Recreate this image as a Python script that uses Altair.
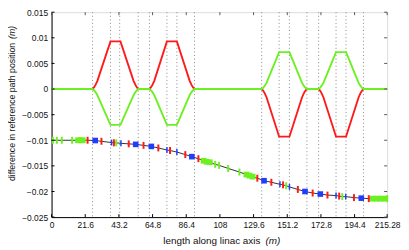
import altair as alt
import pandas as pd

# ---------------- data ----------------
x_ticks = [0, 21.6, 43.2, 64.8, 86.4, 108, 129.6, 151.2, 172.8, 194.4, 215.28]
y_ticks = [-0.025, -0.02, -0.015, -0.01, -0.005, 0, 0.005, 0.01, 0.015]

guide_s = [26.3, 37.8, 43.7, 55.6, 62.8, 74.0, 80.4, 91.7,
           134.8, 146.0, 152.6, 163.8, 171.3, 182.5, 188.9, 200.1]

red_s = [0, 26.3, 27.2, 28.2, 29.4, 37.8, 44.2, 52.6, 53.8, 54.8, 55.6,
         62.8, 63.7, 64.7, 65.9, 74.0, 80.4, 88.6, 89.8, 90.8, 91.7,
         134.8, 135.7, 136.7, 137.9, 146.0, 152.6, 160.7, 161.9, 162.9, 163.8,
         171.3, 172.2, 173.2, 174.4, 182.5, 188.9, 197.0, 198.2, 199.2, 200.1, 215.28]
red_d = [0, 0, 0.0003, 0.0008, 0.0016, 0.0093, 0.0093, 0.0016, 0.0008, 0.0003, 0,
         0, 0.0003, 0.0008, 0.0016, 0.0093, 0.0093, 0.0016, 0.0008, 0.0003, 0,
         0, -0.0003, -0.0008, -0.0016, -0.0093, -0.0093, -0.0016, -0.0008, -0.0003, 0,
         0, -0.0003, -0.0008, -0.0016, -0.0093, -0.0093, -0.0016, -0.0008, -0.0003, 0, 0]

green_s = red_s
green_d = [0, 0, -0.00023, -0.0006, -0.0012, -0.0070, -0.0070, -0.0012, -0.0006, -0.00023, 0,
           0, -0.00023, -0.0006, -0.0012, -0.0070, -0.0070, -0.0012, -0.0006, -0.00023, 0,
           0, 0.00023, 0.0006, 0.0012, 0.0072, 0.0072, 0.0012, 0.0006, 0.00023, 0,
           0, 0.00023, 0.0006, 0.0012, 0.0072, 0.0072, 0.0012, 0.0006, 0.00023, 0, 0]

elem_s = [0, 0.8, 3.4, 6.6, 13.2, 17.0, 18.5, 20.0, 23.1, 28.0, 32.0, 38.5, 40.0, 41.5,
          44.5, 49.5, 54.0, 59.0, 64.0, 68.5, 74.0, 76.0, 80.4, 85.8, 90.0, 94.2,
          97.5, 99.5, 101.5, 105.0, 107.5, 113.3, 120.5, 125.0, 127.0, 129.0, 132.0,
          136.3, 141.0, 146.5, 148.5, 150.5, 152.6, 158.0, 162.6, 167.5, 172.4, 177.0,
          182.5, 184.5, 186.5, 188.7, 194.0, 198.7, 203.5, 206.0, 208.5, 211.0, 213.5, 215.28]
elem_d = [-0.0100, -0.0100, -0.0100, -0.0100, -0.0100, -0.0100, -0.0100, -0.0100, -0.0100,
          -0.01005, -0.0102, -0.01045, -0.0105, -0.0105, -0.0106, -0.0107, -0.0108, -0.0110,
          -0.0112, -0.0115, -0.0119, -0.0120, -0.0123, -0.0128, -0.0132, -0.0136, -0.0140,
          -0.0142, -0.0143, -0.0147, -0.0149, -0.0155, -0.0162, -0.0167, -0.0169, -0.0171,
          -0.0174, -0.0179, -0.0182, -0.0186, -0.0187, -0.0189, -0.0191, -0.0196, -0.0200,
          -0.0203, -0.0205, -0.0207, -0.0208, -0.0209, -0.0210, -0.0210, -0.0212, -0.0213,
          -0.0214, -0.0214, -0.0214, -0.0214, -0.0214, -0.0214]
elem_kind = ["", "G", "G", "G", "G", "GS", "GS", "GS", "R", "B", "R", "b", "R", "G",
             "b", "R", "B", "R", "B", "R", "b", "R", "b", "R", "B", "R",
             "GS", "GS", "GS", "G", "G", "G", "G", "GS", "GS", "GS", "R",
             "B", "R", "b", "R", "G", "b", "R", "B", "R", "B", "R",
             "b", "R", "G", "b", "R", "B", "R", "GS", "GS", "GS", "GS", "G"]

# ---------------- chart ----------------
W, H = 339, 207
RED = "#ff1a1a"
GREEN = "#6cf020"
BLUE = "#1f3cff"
FONT = "Liberation Sans"

xs = alt.Scale(domain=[0, 215.28], nice=False, zero=False)
ys = alt.Scale(domain=[-0.025, 0.015], nice=False, zero=False)

x_axis = alt.Axis(values=x_ticks, format=".5~r", ticks=False, grid=False, title=None,
                  labelFontSize=8.5, labelFont=FONT, labelColor="#111", labelPadding=4,
                  domainColor="#000", labelFlush=False, labelOverlap=False)
y_axis = alt.Axis(values=y_ticks, format="~g", ticks=False, grid=False, title=None,
                  labelFontSize=8.5, labelFont=FONT, labelColor="#111", labelPadding=4,
                  domainColor="#000", labelOverlap=False)


def X(field):
    return alt.X(field, scale=xs, axis=x_axis)


def Y(field):
    return alt.Y(field, scale=ys, axis=y_axis)


guides = alt.Chart(pd.DataFrame({"s": guide_s})).mark_rule(
    color="#8a8a8a", strokeDash=[1, 2.6], strokeWidth=1
).encode(x=X("s:Q"))

red_df = pd.DataFrame({"s": red_s, "d": red_d})
green_df = pd.DataFrame({"s": green_s, "d": green_d})

red_line = alt.Chart(red_df).mark_line(color=RED, strokeWidth=1.9).encode(
    x=X("s:Q"), y=Y("d:Q"))
green_line = alt.Chart(green_df).mark_line(color=GREEN, strokeWidth=1.9).encode(
    x=X("s:Q"), y=Y("d:Q"))

elem_df = pd.DataFrame({"s": elem_s, "d": elem_d, "k": elem_kind})
path = alt.Chart(elem_df).mark_line(color="#333", strokeWidth=1).encode(
    x=X("s:Q"), y=Y("d:Q"))


def ticks_of(kind, color, size, thick):
    return alt.Chart(elem_df).transform_filter(alt.datum.k == kind).mark_tick(
        color=color, orient="vertical", size=size, thickness=thick, opacity=1
    ).encode(x=X("s:Q"), y=Y("d:Q"))


def squares_of(kind, color, size):
    return alt.Chart(elem_df).transform_filter(alt.datum.k == kind).mark_square(
        color=color, size=size, opacity=1
    ).encode(x=X("s:Q"), y=Y("d:Q"))


g_ticks = ticks_of("G", GREEN, 7, 2)
g_sq = squares_of("GS", GREEN, 34)
b_sq = squares_of("B", BLUE, 32)
b_ticks = ticks_of("b", BLUE, 6, 1.5)
r_ticks = ticks_of("R", RED, 7, 2)

# inward tick marks on all four sides
yt = pd.DataFrame({"v": y_ticks})
xt = pd.DataFrame({"v": x_ticks})
left_t = alt.Chart(yt).mark_rule(color="#000", strokeWidth=1).encode(
    y=Y("v:Q"), x=alt.value(0), x2=alt.value(3))
right_t = alt.Chart(yt).mark_rule(color="#555", strokeWidth=1).encode(
    y=Y("v:Q"), x=alt.value(W - 3), x2=alt.value(W))
bottom_t = alt.Chart(xt).mark_rule(color="#000", strokeWidth=1).encode(
    x=X("v:Q"), y=alt.value(H - 3), y2=alt.value(H))
top_t = alt.Chart(xt).mark_rule(color="#555", strokeWidth=1).encode(
    x=X("v:Q"), y=alt.value(0), y2=alt.value(3))

# axis titles (with italic unit)
XFS = 10
YFS = 8.8
xt1 = alt.Chart(pd.DataFrame({"t": ["length along linac axis"]})).mark_text(
    align="right", baseline="alphabetic", fontSize=XFS, font=FONT, color="#111"
).encode(x=alt.value(211), y=alt.value(234), text="t:N")
xt2 = alt.Chart(pd.DataFrame({"t": ["(m)"]})).mark_text(
    align="left", baseline="alphabetic", fontSize=XFS, font=FONT, color="#111", fontStyle="italic"
).encode(x=alt.value(216), y=alt.value(234), text="t:N")
yt1 = alt.Chart(pd.DataFrame({"t": ["difference in reference path position"]})).mark_text(
    align="right", baseline="middle", angle=270, fontSize=YFS, font=FONT, color="#111"
).encode(x=alt.value(-40), y=alt.value(31), text="t:N")
yt2 = alt.Chart(pd.DataFrame({"t": ["(m)"]})).mark_text(
    align="left", baseline="middle", angle=270, fontSize=YFS, font=FONT, color="#111", fontStyle="italic"
).encode(x=alt.value(-40), y=alt.value(27), text="t:N")

chart = alt.layer(
    guides, red_line, green_line, path,
    g_ticks, g_sq, b_sq, b_ticks, r_ticks,
    left_t, right_t, bottom_t, top_t,
    xt1, xt2, yt1, yt2
).properties(
    width=W, height=H,
    autosize=alt.AutoSizeParams(type="none"),
    padding={"left": 44, "top": 3, "right": 14, "bottom": 32},
).configure_view(
    stroke="#777", strokeWidth=1
).configure(background="white")

chart.save("out.html", embed_options={"renderer": "svg", "actions": False})
